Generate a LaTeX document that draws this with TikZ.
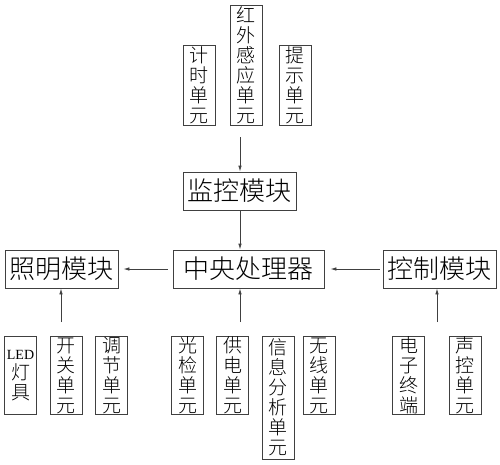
\documentclass[tikz,border=0pt]{standalone}
\usepackage{fontspec}
\setmainfont{Liberation Serif}
\newfontfamily\cjk{Noto Sans CJK SC Light}
\usetikzlibrary{arrows.meta}
\begin{document}
\begin{tikzpicture}[x=1pt,y=-1pt,
  modbox/.style={draw=black!75, line width=0.8pt, inner sep=0pt, align=center,
    minimum height=38pt, font=\cjk\fontsize{26}{28}\selectfont},
  unitbox/.style={draw=black!75, line width=0.8pt, inner sep=0pt, align=center,
    minimum width=32pt, font=\cjk\fontsize{19}{20}\selectfont},
  arr/.style={-{Latex[length=6pt,width=3.5pt]}, line width=0.8pt, draw=black!75}]
\fill[white] (0,0) rectangle (500,464);
\useasboundingbox (0,0) rectangle (500,464);

% top units
\node[unitbox, minimum height=80pt] (js) at (199,85) {计\\时\\单\\元};
\node[unitbox, minimum height=120pt] (hw) at (246,65) {红\\外\\感\\应\\单\\元};
\node[unitbox, minimum height=80pt] (ts) at (295,85) {提\\示\\单\\元};

% modules
\node[modbox, minimum width=113pt] (jk) at (239.5,191) {监控模块};
\node[modbox, minimum width=113pt] (zm) at (61.5,269) {照明模块};
\node[modbox, minimum width=151pt] (zy) at (248.5,269) {中央处理器};
\node[modbox, minimum width=113pt] (kz) at (439.5,269) {控制模块};

% bottom units
\node[unitbox, minimum height=78pt] (led) at (20.5,375.5) {{\rmfamily\fontsize{14}{20}\selectfont LED}\\灯\\具};
\node[unitbox, minimum height=78pt] (kg) at (66,375.5) {开\\关\\单\\元};
\node[unitbox, minimum height=78pt] (tj) at (111.5,375.5) {调\\节\\单\\元};
\node[unitbox, minimum height=78pt] (gj) at (187.5,375.5) {光\\检\\单\\元};
\node[unitbox, minimum height=78pt] (gd) at (232.5,375.5) {供\\电\\单\\元};
\node[unitbox, minimum height=123pt] (xx) at (278,397.5) {信\\息\\分\\析\\单\\元};
\node[unitbox, minimum height=78pt] (wx) at (319,375.5) {无\\线\\单\\元};
\node[unitbox, minimum height=78pt] (dz) at (408.5,375.5) {电\\子\\终\\端};
\node[unitbox, minimum height=78pt] (sk) at (465,375.5) {声\\控\\单\\元};

% arrows
\coordinate (t1) at (240,137);
\draw[arr] (t1) -- (t1 |- jk.north);
\draw[arr] (t1 |- jk.south) -- (t1 |- zy.north);
\draw[arr, shorten <=5pt, shorten >=5pt] (zy.west) -- (zm.east);
\draw[arr, shorten <=3pt, shorten >=6pt] (kz.west) -- (zy.east);
\coordinate (b1) at (61,322);
\coordinate (b2) at (240,322);
\coordinate (b3) at (437,322);
\draw[arr] (b1) -- (b1 |- zm.south);
\draw[arr] (b2) -- (b2 |- zy.south);
\draw[arr] (b3) -- (b3 |- kz.south);
\end{tikzpicture}
\end{document}
